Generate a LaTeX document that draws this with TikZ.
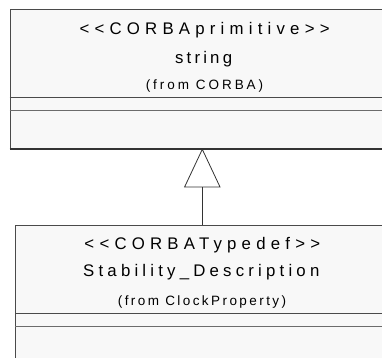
\documentclass[tikz,border=0pt]{standalone}
\usepackage{fontspec}
\setmainfont{Liberation Sans}
\usetikzlibrary{arrows.meta}
\definecolor{boxfill}{HTML}{F8F8F8}
\definecolor{edgec}{HTML}{4A4A4A}
\definecolor{darkedge}{HTML}{333333}
\newcommand{\lsp}[1]{\addfontfeature{LetterSpace=#1}}
\begin{document}
\begin{tikzpicture}[x=1pt,y=-1pt,
  classbox/.style={draw=edgec, fill=boxfill, line width=0.9pt, anchor=north west, inner sep=0pt},
  bigtext/.style={anchor=base, inner sep=0pt, font=\fontsize{16.8}{20}\selectfont},
  smalltext/.style={anchor=base, inner sep=0pt, font=\fontsize{13.5}{16}\selectfont},
  sepline/.style={draw=edgec, line width=0.9pt},
  genarrow/.style={draw=darkedge, line width=0.8pt, -{Triangle[open, length=39pt, width=36.5pt]}}
]
\useasboundingbox (0,0) rectangle (382,357);
\clip (0,0) rectangle (382,357);
% top class
\node[classbox, minimum width=390.5pt, minimum height=139.3pt] (topbox) at (9.5,8.7) {};
\draw[darkedge, line width=1.6pt] (topbox.south west) -- (topbox.south east);
\draw[sepline] (9.5,97.3) -- (400,97.3);
\draw[sepline, draw=gray!85!black] (9.5,110) -- (400,110);
\node[bigtext] (t1) at (204.6,34) {\lsp{31}<{}<CORBAprimitive>{}>};
\node[bigtext] (t2) at (203.6,63) {\lsp{19}string};
\node[smalltext] (t3) at (204.5,89) {\lsp{22}(from CORBA)};
% bottom class
\node[classbox, minimum width=385pt, minimum height=150pt] (botbox) at (15,224.7) {};
\draw[sepline] (15,313.7) -- (400,313.7);
\draw[sepline, draw=gray!85!black] (15,326) -- (400,326);
\node[bigtext] (b1) at (202.3,249) {\lsp{31}<{}<CORBATypedef>{}>};
\node[bigtext] (b2) at (201.3,276.7) {\lsp{25}Stability\_Description};
\node[smalltext] (b3) at (202,305.7) {\lsp{18}(from ClockProperty)};
% generalization
\coordinate (apex) at (202.3,148.4);
\coordinate (foot) at (202.3,224.7);
\draw[genarrow] (foot) -- (apex);
\end{tikzpicture}
\end{document}
